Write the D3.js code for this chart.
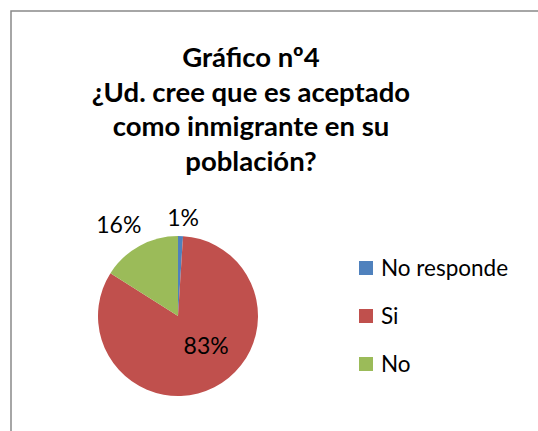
<!DOCTYPE html>
<html>
<head>
<meta charset="utf-8">
<script src="https://cdn.jsdelivr.net/npm/d3@7"></script>
<style>
  body { margin: 0; background: #fff; }
  text { font-family: Lato, "Open Sans", sans-serif; fill: #000; }
</style>
</head>
<body>
<div id="viz"></div>
<script>
// data
var categories = ["No responde", "Si", "No"];
var values = [1, 83, 16];
var colors = ["#4F81BD", "#C0504D", "#9BBB59"];
var titleLines = ["Gráfico nº4", "¿Ud. cree que es aceptado", "como inmigrante en su", "población?"];

var width = 538, height = 431,
    cx = 178, cy = 316, radius = 80;

var svg = d3.select("#viz").append("svg")
    .attr("width", width)
    .attr("height", height);

// chart border (only top and left visible, rest is cut off)
svg.append("rect")
    .attr("x", 11).attr("y", 11)
    .attr("width", 600).attr("height", 600)
    .attr("fill", "none")
    .attr("stroke", "#898989")
    .attr("stroke-width", 1.5);

// title
svg.append("g").selectAll("text")
    .data(titleLines)
    .enter().append("text")
        .attr("x", 251)
        .attr("y", function(d, i) { return 67 + i * 34.5; })
        .attr("text-anchor", "middle")
        .style("font-weight", "bold")
        .style("font-size", "27.5px")
        .text(function(d) { return d; });

var pie = d3.pie().sort(null).value(function(d) { return d; });
var arc = d3.arc().innerRadius(0).outerRadius(radius);
var arcs = pie(values);

var g = svg.append("g").attr("transform", "translate(" + cx + "," + cy + ")");

g.selectAll("path")
    .data(arcs)
    .enter().append("path")
        .attr("d", arc)
        .attr("fill", function(d, i) { return colors[i]; });

// percent labels: small slices outside, big slice inside
var outerArc = d3.arc().innerRadius(radius + 18).outerRadius(radius + 18);
var innerArc = d3.arc().innerRadius(radius * 0.5).outerRadius(radius * 0.5);
var labelOffset = [[2, 0], [10, -6], [-12, -5]];

g.selectAll("text.pct")
    .data(arcs)
    .enter().append("text")
        .attr("class", "pct")
        .attr("transform", function(d, i) {
            var p = (d.endAngle - d.startAngle) > Math.PI ? innerArc.centroid(d) : outerArc.centroid(d);
            return "translate(" + (p[0] + labelOffset[i][0]) + "," + (p[1] + labelOffset[i][1]) + ")";
        })
        .attr("text-anchor", "middle")
        .attr("dy", "0.35em")
        .style("font-size", "23px")
        .text(function(d) { return d.data + "%"; });

// legend
var legend = svg.append("g").attr("transform", "translate(359,261)");
var row = legend.selectAll("g")
    .data(categories)
    .enter().append("g")
        .attr("transform", function(d, i) { return "translate(0," + i * 48 + ")"; });

row.append("rect")
    .attr("width", 14).attr("height", 14)
    .attr("fill", function(d, i) { return colors[i]; });

row.append("text")
    .attr("x", 22).attr("y", 15)
    .style("font-size", "22.5px")
    .text(function(d) { return d; });
</script>
</body>
</html>
